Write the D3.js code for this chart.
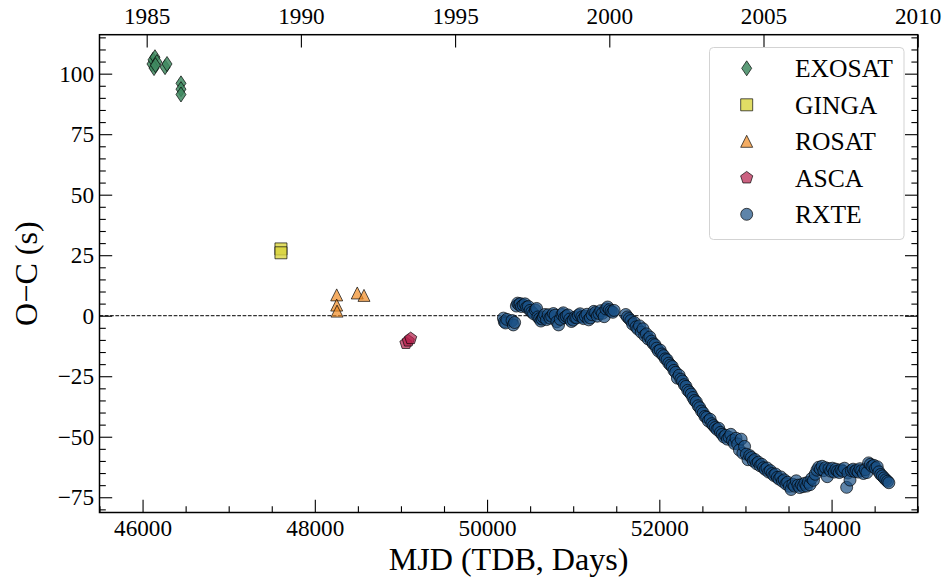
<!DOCTYPE html>
<html><head><meta charset="utf-8">
<script src="https://cdn.jsdelivr.net/npm/d3@7"></script>
<style>body{margin:0;background:#fff}svg{display:block}</style>
</head><body><svg id="c" width="948" height="582"></svg>
<script>
// ---- data ----
const exosatMjd = [46109, 46121, 46144, 46167, 46133, 46150, 46261, 46284, 46446, 46446, 46446];
const exosatOc  = [104.0, 105.7, 106.8, 104.8, 102.3, 103.5, 102.7, 104.0, 96.0, 93.6, 91.4];
const gingaMjd = [47607, 47607];
const gingaOc  = [27.6, 26.0];
const rosatMjd = [48254, 48254, 48258, 48493, 48571];
const rosatOc  = [8.6, 4.4, 1.9, 9.4, 8.4];
const ascaMjd = [49058, 49085, 49113];
const ascaOc  = [-11.4, -10.4, -9.4];
const rxteMjd = [
 50190,50200,50215,50230,50290,50305,50320,50340,50355,50370,50385,50400,50420,50440,50460,50480,50500,50520,50540,50560,
 50575,50590,50610,50625,50640,50655,50670,50690,50710,50730,50750,50770,50790,50810,50830,50850,50870,50885,50900,50920,
 50940,50960,50980,51000,51020,51040,51060,51080,51100,51120,51140,51160,51180,51200,51220,51240,51260,51280,51300,51320,
 51340,51360,51380,51400,51420,51440,51460,51475,
 51610,51630,51650,51670,51690,51710,51730,51750,51770,51790,51810,51830,51850,51870,51890,51910,51930,51950,51970,51990,
 52010,52030,52050,52070,52090,52110,52130,52150,52170,52190,52210,52230,52250,52270,52290,52310,52330,52350,52370,52390,
 52410,52430,52450,52470,52490,52510,52530,52550,52570,52590,52610,52630,52650,52670,52690,52710,52730,52750,52770,52790,
 52810,52830,52850,52870,52890,52910,52930,52950,52970,52990,53010,53030,53050,53070,53090,53110,53130,53150,53170,53190,
 53210,53230,53250,53270,53290,53310,53330,53350,53370,53390,53410,53430,53450,53470,53490,53510,53530,53550,53570,53590,
 53610,53630,53650,53670,53690,53710,53730,53750,53770,53790,53810,53830,53850,53870,53890,53910,53930,53950,53970,53990,
 54010,54030,54050,54070,54090,54110,54130,54150,54175,54190,54214,54230,54250,54270,54290,54310,54330,54350,54370,54390,
 54410,54430,54450,54470,54490,54510,54530,54550,54570,54590,54610,54630,54650,54665];
const rxteOc = [
 -1.0,-2.5,-3.0,-1.5,-2.0,-3.8,-2.8,4.0,5.2,4.6,5.0,3.8,4.4,4.9,3.5,3.8,2.2,1.5,0.8,2.4,
 3.0,-0.5,-1.2,-2.2,-1.4,-0.6,0.5,-1.6,0.4,-1.0,-0.2,0.9,0.2,-2.5,-3.8,-1.5,0.5,1.2,-0.8,-0.2,
 0.3,-1.4,-2.4,-1.8,-0.6,-0.9,0.2,0.8,-0.5,-1.2,-0.2,0.6,-1.7,-0.9,0.4,1.8,1.3,-0.2,0.9,2.1,
 1.0,-0.4,2.8,3.6,2.5,1.9,1.4,2.2,
 0.5,-0.5,-1.2,-2.0,-3.5,-2.8,-4.6,-5.5,-4.2,-6.8,-5.4,-8.2,-7.5,-9.6,-8.8,-10.5,-11.6,-12.0,-13.4,-14.6,
 -14.2,-15.8,-16.5,-17.8,-18.2,-19.6,-20.4,-21.0,-22.6,-23.4,-25.8,-24.6,-26.2,-27.0,-28.5,-29.2,-30.8,-31.5,-32.4,-33.8,
 -35.0,-35.6,-37.2,-38.0,-39.4,-40.2,-41.6,-42.0,-43.5,-42.8,-44.6,-45.4,-46.2,-47.0,-46.5,-48.2,-49.0,-50.1,-49.4,-51.0,
 -50.2,-49.0,-51.5,-52.8,-50.6,-53.0,-55.5,-51.0,-56.8,-54.0,-57.2,-59.5,-57.8,-58.6,-60.0,-59.4,-61.2,-60.5,-62.0,-61.4,
 -62.8,-63.5,-62.9,-64.6,-64.0,-65.2,-66.0,-65.4,-66.8,-67.5,-66.6,-68.4,-67.8,-69.5,-68.8,-70.5,-71.8,-69.6,-70.4,-68.2,
 -70.0,-71.0,-69.8,-70.6,-69.2,-70.4,-68.8,-69.8,-67.2,-68.0,-65.5,-63.8,-62.6,-63.4,-62.2,-64.0,-62.8,-66.5,-63.2,-64.2,
 -63.0,-64.6,-63.4,-64.2,-64.8,-63.6,-64.2,-63.0,-70.9,-65.0,-67.9,-64.0,-63.4,-64.4,-63.8,-64.6,-63.2,-64.0,-65.2,-63.6,
 -64.8,-60.8,-61.4,-62.2,-61.8,-63.0,-62.4,-64.5,-65.6,-66.2,-67.0,-67.8,-68.4,-69.0];

const xTicks = [46000, 48000, 50000, 52000, 54000];
const yTicks = [-75, -50, -25, 0, 25, 50, 75, 100];
const yearTicks = [1985, 1990, 1995, 2000, 2005, 2010];
const legendLabels = ["EXOSAT", "GINGA", "ROSAT", "ASCA", "RXTE"];

// ---- layout / style ----
const L = 99.5, R = 917.7, T = 34.7, B = 512.5;
const FONT = "'Liberation Serif', Tinos, 'Times New Roman', 'Nimbus Roman', 'DejaVu Serif', serif";
const svg = d3.select("#c");

// size a font so that a sample string reaches a target width, whatever serif font is present
function fitSize(sample, targetWidth) {
  const t = svg.append("text").attr("font-family", FONT).attr("font-size", 100).text(sample);
  const w = t.node().getComputedTextLength();
  t.remove();
  return w > 0 ? 100 * targetWidth / w : 24;
}
const tickSize = Math.min(26, fitSize("46000", 58));
const labelSize = Math.min(33, fitSize("MJD (TDB, Days)", 240));
const legendSize = Math.min(27, fitSize("EXOSAT", 98));

const x = d3.scaleLinear().domain([45500, 55000]).range([L, R]);
const y = d3.scaleLinear().domain([-81.3, 116.1]).range([B, T]);
const yr = d3.scaleLinear().domain([1983.47, 2010]).range([L, R]);

const series = [
  {name:"EXOSAT", mjd:exosatMjd, oc:exosatOc, shape:"diamond", fill:"#3f8a60", op:0.85},
  {name:"GINGA",  mjd:gingaMjd,  oc:gingaOc,  shape:"square",  fill:"#d9d43e", op:0.8},
  {name:"ROSAT",  mjd:rosatMjd,  oc:rosatOc,  shape:"triangle",fill:"#ef8a22", op:0.7},
  {name:"ASCA",   mjd:ascaMjd,   oc:ascaOc,   shape:"pentagon",fill:"#b51f4b", op:0.7},
  {name:"RXTE",   mjd:rxteMjd,   oc:rxteOc,   shape:"circle",  fill:"#1a5084", op:0.7}
];

function shapePath(s) {
  switch (s) {
    case "diamond": return "M0,-7.5L5,0L0,7.5L-5,0Z";
    case "square": return "M-6,-6H6V6H-6Z";
    case "triangle": return "M0,-6L6,6L-6,6Z";
    case "pentagon": {
      const r = 6.4, p = d3.path();
      for (let k = 0; k < 5; k++) {
        const a = -Math.PI/2 + k*2*Math.PI/5;
        if (k === 0) p.moveTo(r*Math.cos(a), r*Math.sin(a)); else p.lineTo(r*Math.cos(a), r*Math.sin(a));
      }
      p.closePath(); return p.toString();
    }
    default: { const p = d3.path(); p.arc(0,0,6,0,2*Math.PI); return p.toString(); }
  }
}

// zero line
svg.append("line").attr("x1", L).attr("x2", R).attr("y1", y(0)).attr("y2", y(0))
  .attr("stroke", "#000").attr("stroke-width", 1).attr("stroke-dasharray", "3.7,1.6");

// points
const plot = svg.append("g");
series.forEach(s => {
  plot.append("g").selectAll("path").data(s.mjd.map((m, i) => [m, s.oc[i]])).join("path")
    .attr("d", shapePath(s.shape))
    .attr("transform", d => `translate(${x(d[0])},${y(d[1])})`)
    .attr("fill", s.fill).attr("fill-opacity", s.op)
    .attr("stroke", "#000").attr("stroke-opacity", 0.75).attr("stroke-width", 0.9);
});

// axes
const MAJ = 12.7, MIN = 6.3;
function styleAxis(g) {
  g.select(".domain").remove();
  g.selectAll(".tick line").attr("stroke", "#000").attr("stroke-width", 1.1);
  g.selectAll(".tick text").attr("font-family", FONT).attr("font-size", tickSize).attr("fill", "#000");
}
const yMinor = d3.range(-80, 116, 5).filter(v => v % 25 !== 0);
const xMinor = d3.range(45500, 55001, 500).filter(v => v % 2000 !== 0);

svg.append("g").attr("transform", `translate(0,${B})`)
  .call(d3.axisBottom(x).tickValues(xTicks).tickFormat(d3.format("d")).tickSizeInner(-MAJ).tickSizeOuter(0).tickPadding(7)).call(styleAxis);
svg.append("g").attr("transform", `translate(0,${B})`)
  .call(d3.axisBottom(x).tickValues(xMinor).tickFormat("").tickSizeInner(-MIN).tickSizeOuter(0)).call(styleAxis);
svg.append("g").attr("transform", `translate(0,${T})`)
  .call(d3.axisTop(yr).tickValues(yearTicks).tickFormat(d3.format("d")).tickSizeInner(-MAJ).tickSizeOuter(0).tickPadding(11)).call(styleAxis);
svg.append("g").attr("transform", `translate(${L},0)`)
  .call(d3.axisLeft(y).tickValues(yTicks).tickSizeInner(-MAJ).tickSizeOuter(0).tickPadding(5.5)).call(styleAxis);
svg.append("g").attr("transform", `translate(${L},0)`)
  .call(d3.axisLeft(y).tickValues(yMinor).tickFormat("").tickSizeInner(-MIN).tickSizeOuter(0)).call(styleAxis);
svg.append("g").attr("transform", `translate(${R},0)`)
  .call(d3.axisRight(y).tickValues(yTicks).tickFormat("").tickSizeInner(-MAJ).tickSizeOuter(0)).call(styleAxis);
svg.append("g").attr("transform", `translate(${R},0)`)
  .call(d3.axisRight(y).tickValues(yMinor).tickFormat("").tickSizeInner(-MIN).tickSizeOuter(0)).call(styleAxis);

// frame
svg.append("rect").attr("x", L).attr("y", T).attr("width", R - L).attr("height", B - T)
  .attr("fill", "none").attr("stroke", "#000").attr("stroke-width", 1.5);

// axis labels
svg.append("text").attr("x", (L + R) / 2).attr("y", 570).attr("text-anchor", "middle")
  .attr("font-family", FONT).attr("font-size", labelSize).text("MJD (TDB, Days)");
svg.append("text").attr("transform", `translate(37,${(T + B) / 2}) rotate(-90)`).attr("text-anchor", "middle")
  .attr("font-family", FONT).attr("font-size", labelSize).text("O\u2212C (s)");

// legend
const lg = svg.append("g");
lg.append("rect").attr("x", 709.5).attr("y", 47.5).attr("width", 194.5).attr("height", 192).attr("rx", 4)
  .attr("fill", "#fff").attr("fill-opacity", 0.8).attr("stroke", "#d3d3d3").attr("stroke-width", 1);
legendLabels.forEach((lab, i) => {
  const s = series.find(d => d.name === lab);
  const cy = 68.3 + i * 36.5;
  lg.append("path").attr("d", shapePath(s.shape)).attr("transform", `translate(746.7,${cy})`)
    .attr("fill", s.fill).attr("fill-opacity", s.op).attr("stroke", "#000").attr("stroke-opacity", 0.75).attr("stroke-width", 0.9);
  lg.append("text").attr("x", 795).attr("y", cy + 9).attr("font-family", FONT).attr("font-size", legendSize).text(lab);
});
</script></body></html>
